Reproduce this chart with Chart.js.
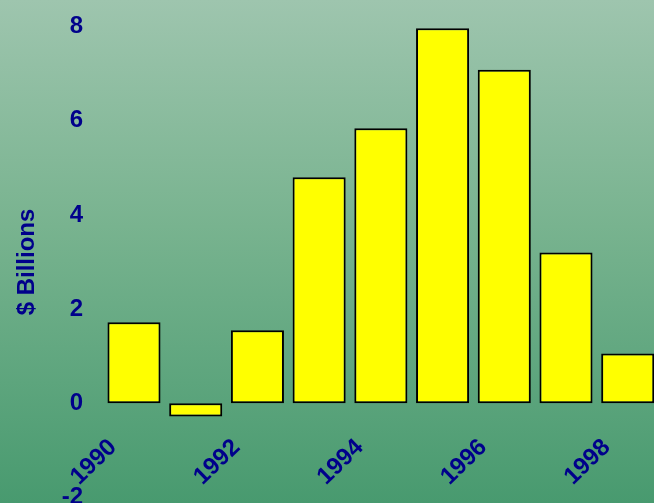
<!DOCTYPE html>
<html>
<head>
<meta charset="utf-8">
<script src="https://cdn.jsdelivr.net/npm/chart.js@4"></script>
<style>
html, body { margin: 0; padding: 0; overflow: hidden; }
body { width: 654px; height: 503px; background: linear-gradient(to bottom, #9ec5ae 0%, #78b38f 45%, #489a6f 100%); }
#wrap { position: relative; width: 678px; height: 540px; margin-top: -8px; }
</style>
</head>
<body>
<div id="wrap"><canvas id="myChart"></canvas></div>
<script>
const years = ['1990', '1991', '1992', '1993', '1994', '1995', '1996', '1997', '1998']
const values = [1.72, -0.28, 1.55, 4.8, 5.84, 7.96, 7.08, 3.2, 1.06]
const yTicks = [-2, 0, 2, 4, 6, 8]
const navy = '#00008b'

const ctx = document.getElementById('myChart').getContext('2d')
let obj = {
    type: 'bar',
    data: {
        labels: years,
        datasets: [{
            data: values,
            backgroundColor: '#ffff00',
            borderColor: '#000000',
            borderWidth: 2,
            borderSkipped: false,
            categoryPercentage: 1,
            barPercentage: 0.86
        }]
    },
    options: {
        responsive: true,
        maintainAspectRatio: false,
        animation: false,
        layout: { padding: { left: 13, right: 5, top: 1, bottom: 0 } },
        plugins: { legend: { display: false }, tooltip: { enabled: false } },
        scales: {
            x: {
                position: { y: 0 },
                grid: { display: false, drawTicks: false },
                border: { display: false },
                ticks: {
                    autoSkip: false,
                    maxRotation: 44,
                    minRotation: 44,
                    padding: 30,
                    labelOffset: -21,
                    color: navy,
                    font: { family: 'Liberation Sans, Arial', size: 24, weight: 'bold' },
                    callback: function (v, i) { return i % 2 === 0 ? years[i] : '' }
                }
            },
            y: {
                min: yTicks[0],
                max: yTicks[yTicks.length - 1],
                afterBuildTicks: axis => { axis.ticks = yTicks.map(v => ({ value: v })) },
                grid: { display: false, drawTicks: false },
                border: { display: false },
                ticks: {
                    padding: 20,
                    color: navy,
                    font: { family: 'Liberation Sans, Arial', size: 24, weight: 'bold' }
                },
                title: {
                    display: true,
                    text: '$ Billions',
                    color: navy,
                    padding: 0,
                    font: { family: 'Liberation Sans, Arial', size: 24, weight: 'bold' }
                }
            }
        }
    }
}
let myChart = new Chart(ctx, obj)
</script>
</body>
</html>
